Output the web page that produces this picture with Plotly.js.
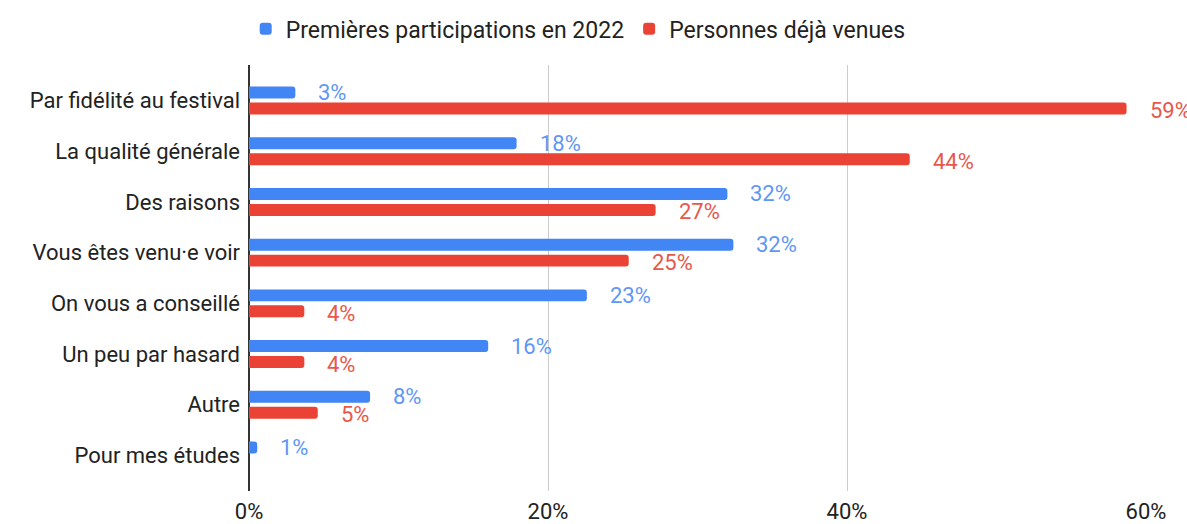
<!DOCTYPE html>
<html>
<head>
<meta charset="utf-8">
<script src="https://cdn.plot.ly/plotly-3.0.1.min.js"></script>
<style>
  html, body { margin: 0; padding: 0; background: #fff; }
  #chart { width: 1187px; height: 524px; }
</style>
</head>
<body>
<div id="chart"></div>
<script>
let categories = [
    'Par fidélité au festival',
    'La qualité générale',
    'Des raisons',
    'Vous êtes venu·e voir',
    'On vous a conseillé',
    'Un peu par hasard',
    'Autre',
    'Pour mes études'
];
let firstTime = [3.1, 17.9, 32.0, 32.4, 22.6, 16.0, 8.1, 0.55];
let returning = [58.7, 44.2, 27.2, 25.4, 3.7, 3.7, 4.6, null];
let seriesNames = ['Premières participations en 2022', 'Personnes déjà venues'];
let xTicks = [0, 20, 40, 60];

const BLUE = '#4285f4';
const RED = '#ea4335';
const FONT = 'Roboto, Arial, sans-serif';

let traces = [
    {
        type: 'bar', orientation: 'h',
        y: categories, x: firstTime, name: seriesNames[0],
        marker: { color: BLUE, cornerradius: 3 },
        hoverinfo: 'x+y'
    },
    {
        type: 'bar', orientation: 'h',
        y: categories, x: returning, name: seriesNames[1],
        marker: { color: RED, cornerradius: 3 },
        hoverinfo: 'x+y'
    }
];

// value labels next to bar ends
let annotations = [];
categories.forEach((c, i) => {
    [[firstTime[i], '#5e97f6', 8], [returning[i], '#e8574a', -10]].forEach(([v, col, dy]) => {
        if (v === null) return;
        annotations.push({
            x: v, y: c, xref: 'x', yref: 'y',
            text: Math.round(v) + '%',
            showarrow: false, xanchor: 'left', yanchor: 'middle',
            xshift: 21, yshift: dy,
            font: { family: FONT, size: 22, color: col }
        });
    });
});

let layout = {
    width: 1187, height: 524,
    margin: { l: 249, r: 41, t: 65, b: 33 },
    paper_bgcolor: '#fff', plot_bgcolor: '#fff',
    barmode: 'group', bargap: 0.37, bargroupgap: 0.25,
    font: { family: FONT, size: 22, color: '#222' },
    showlegend: true,
    legend: {
        orientation: 'h', x: 0.367, xanchor: 'center',
        yref: 'container', y: 0.945, yanchor: 'middle',
        font: { family: FONT, size: 23, color: '#222' },
        itemwidth: 30
    },
    xaxis: {
        range: [0, 60], tickvals: xTicks, ticktext: xTicks.map(t => t + '%'),
        showgrid: true, gridcolor: '#cccccc', gridwidth: 1,
        zeroline: true, zerolinecolor: '#333', zerolinewidth: 1.5,
        ticks: '', ticklabelstandoff: 5,
        tickfont: { size: 22, color: '#222' }, fixedrange: true
    },
    yaxis: {
        type: 'category', range: [7.7, -0.7],
        ticks: '', ticklen: 0, ticklabelstandoff: 8,
        tickfont: { size: 22, color: '#222' },
        showgrid: false, automargin: false, fixedrange: true
    },
    annotations: annotations
};

Plotly.newPlot('chart', traces, layout, { displayModeBar: false, staticPlot: true });
</script>
</body>
</html>
